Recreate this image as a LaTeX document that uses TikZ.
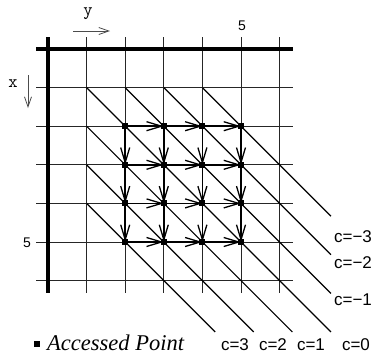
\documentclass[tikz,border=0pt]{standalone}
\usepackage{fontspec}
\setmainfont{Liberation Serif}
\newfontfamily\lsans{Liberation Sans}
\usetikzlibrary{arrows.meta}
\begin{document}
\begin{tikzpicture}[x=1pt,y=-1pt,
  gridline/.style={line width=0.7pt, black!85},
  axisline/.style={line width=4pt},
  diag/.style={line width=1.2pt},
  acc/.style={rectangle, fill=black, minimum size=6pt, inner sep=0pt, draw=none},
  flow/.style={line width=1.5pt, -{Straight Barb[length=15pt,width=9pt,line width=1.3pt]}},
  axarrow/.style={line width=0.7pt, black!70, -{Straight Barb[length=10pt,width=7pt,line width=0.8pt]}},
  clab/.style={font=\lsans\fontsize{17}{17}\selectfont, inner sep=0pt},
  numlab/.style={font=\lsans\fontsize{14}{14}\selectfont, inner sep=0pt},
  varlab/.style={font=\ttfamily\fontsize{18}{18}\selectfont, inner sep=0pt},
]
\useasboundingbox (0,0) rectangle (374,354);
\def\u{38.6}
% grid
\foreach \i in {1,...,6} {
  \draw[gridline] ({48+\u*\i},37) -- ({48+\u*\i},293);
  \draw[gridline] (36,{49+\u*\i}) -- (293,{49+\u*\i});
}
\draw[axisline] (36,49) -- (293,49);
\draw[axisline] (48,37) -- (48,293);
% diagonals c>=0
\foreach \c in {0,...,3} {
  \coordinate (ds\c) at ({48+\u*1},{49+\u*(1+\c)});
  \coordinate (de\c) at ({48+\u*(7.33-\c)},{49+\u*7.33});
  \draw[diag] (ds\c) -- (de\c);
}
% diagonals c<0
\foreach \c in {1,...,3} {
  \coordinate (dsm\c) at ({48+\u*(1+\c)},{49+\u*1});
  \coordinate (dem\c) at ({48+\u*7.33},{49+\u*(7.33-\c)});
  \draw[diag] (dsm\c) -- (dem\c);
}
% accessed points
\foreach \i in {2,...,5} {
  \foreach \j in {2,...,5} {
    \node[acc] (p\i\j) at ({48+\u*\j},{49+\u*\i}) {};
  }
}
\foreach \i in {2,...,5} {
  \foreach \j/\k in {2/3,3/4,4/5} {
    \draw[flow] (p\i\j.center) -- (p\i\k.center);
    \draw[flow] (p\j\i.center) -- (p\k\i.center);
  }
}
% axis labels
\node[varlab] (ylab) at (88,14) {y};
\node[varlab] (xlab) at (13,84) {x};
\coordinate (ya) at (73,31);
\coordinate (yb) at (110,31);
\coordinate (xa) at (28,75);
\coordinate (xb) at (28,108);
\draw[axarrow] (ya) -- (yb);
\draw[axarrow] (xa) -- (xb);
\node[numlab] (five1) at (242,26) {5};
\node[numlab] (five2) at (27,243) {5};
% c labels
\node[clab] (c3) at (235,345) {c=3};
\node[clab] (c2) at (273,345) {c=2};
\node[clab] (c1) at (311,345) {c=1};
\node[clab] (c0) at (356,345) {c=0};
\node[clab] (cm3) at (353,237) {c=−3};
\node[clab] (cm2) at (353,263) {c=−2};
\node[clab] (cm1) at (353,300) {c=−1};
% legend
\node[acc] (legsq) at (37,344) {};
\node[font=\itshape\fontsize{22.5}{22.5}\selectfont, inner sep=0pt, anchor=base west] (legtxt) at (47,350) {Accessed Point};
\end{tikzpicture}
\end{document}
